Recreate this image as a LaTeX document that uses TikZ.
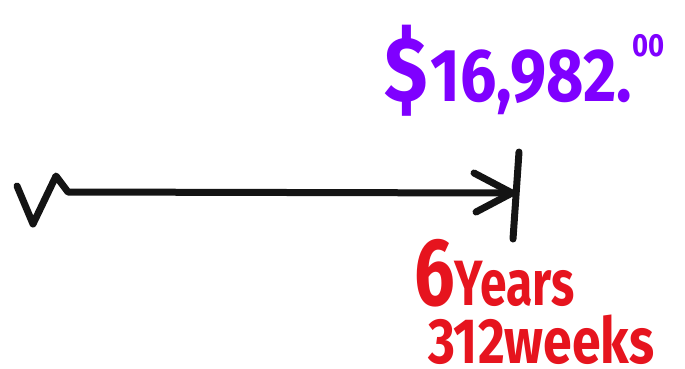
\documentclass[tikz,border=0pt]{standalone}
\usepackage{fontspec}
\setmainfont{Fira Sans}
\definecolor{penpurple}{RGB}{127,0,255}
\definecolor{penred}{RGB}{230,20,30}
\definecolor{penblack}{RGB}{20,20,20}
\begin{document}
\begin{tikzpicture}[x=1pt,y=-1pt,
  pen/.style={draw=penblack,line width=7pt,line cap=round,line join=round},
  amount/.style={text=penpurple,font=\bfseries\fontsize{75}{75}\selectfont,inner sep=0pt,anchor=base west,xscale=0.86},
  timelabel/.style={text=penred,font=\bfseries\fontsize{64}{64}\selectfont,inner sep=0pt,anchor=base west,xscale=0.75}]
\useasboundingbox (0,0) rectangle (685,368);
% start squiggle
\coordinate (s0) at (17,186);
\coordinate (s1) at (33,224);
\coordinate (s2) at (56,176);
\coordinate (start) at (68,192);
\coordinate (tip) at (512,193);
\coordinate (tickTop) at (519,152);
\coordinate (tickBot) at (513,239);
\coordinate (armU) at (474,173);
\coordinate (armL) at (476,212);
\draw[pen] (s0) -- (s1) -- (s2) -- (start) -- (tip);
\draw[pen] (armU) -- (tip) -- (armL);
\draw[pen] (tickTop) -- (tickBot);
% labels
\node[amount] (amt) at (384,101) {{\fontsize{92}{92}\selectfont\$}\kern 3pt 16,982.\raisebox{0.6em}{\fontsize{32}{32}\selectfont 00}};
\node[timelabel] (yrs) at (414,305) {{\fontsize{96}{96}\selectfont 6}Years};
\node[timelabel,xscale=1.08] (wks) at (428,363) {312weeks};
\end{tikzpicture}
\end{document}
